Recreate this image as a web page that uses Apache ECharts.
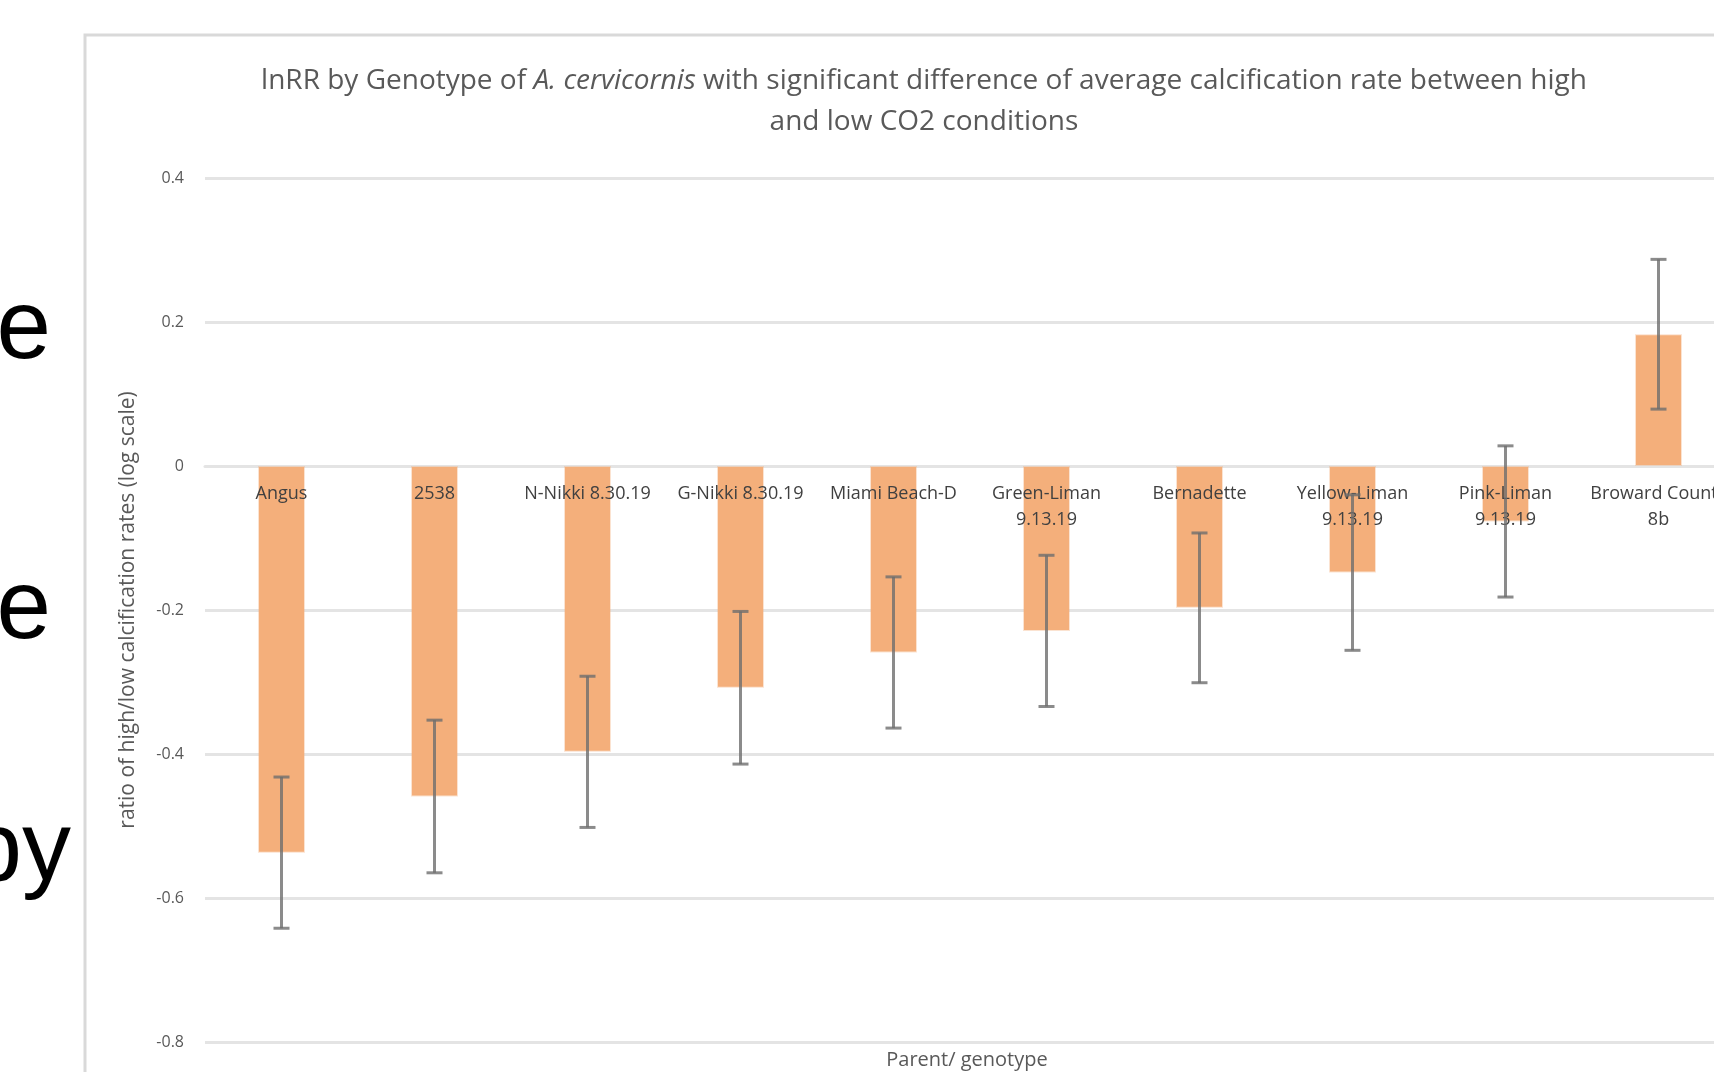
<!DOCTYPE html>
<html>
<head>
<meta charset="utf-8">
<script src="https://cdn.jsdelivr.net/npm/echarts@6/dist/echarts.min.js"></script>
<style>
html, body { margin: 0; padding: 0; background: #fff; overflow: hidden; width: 1714px; height: 1072px; }
#chart { width: 1800px; height: 1150px; }
</style>
</head>
<body>
<div id="chart"></div>
<script>
// 基因型 / genotype names
var genotypes = ['Angus', '2538', 'N-Nikki 8.30.19', 'G-Nikki 8.30.19', 'Miami Beach-D',
	'Green-Liman\n9.13.19', 'Bernadette', 'Yellow-Liman\n9.13.19', 'Pink-Liman\n9.13.19', 'Broward County\n8b'];
// lnRR values
var lnrr = [-0.537, -0.459, -0.397, -0.308, -0.259, -0.229, -0.197, -0.148, -0.077, 0.183];
// error (+/-)
var errs = [0.105, 0.106, 0.105, 0.106, 0.105, 0.105, 0.104, 0.108, 0.105, 0.104];
var yTicks = {min: -0.8, max: 0.4, interval: 0.2};

var errData = [];
var labelData = [];
for (var i = 0; i < lnrr.length; i++) {
	errData.push([i, lnrr[i] - errs[i], lnrr[i] + errs[i]]);
	labelData.push([i, 0]);
}

var chart = echarts.init(document.getElementById('chart'));
chart.setOption({
	animation: false,
	backgroundColor: '#fff',
	title: {
		text: '{n|lnRR by Genotype of }{i|A. cervicornis}{n| with significant difference of average calcification rate between high}\n{n|and low CO2 conditions}',
		left: 919,
		top: 56,
		textAlign: 'center',
		textStyle: {
			rich: {
				n: {fontFamily: 'Open Sans', fontSize: 28, fontWeight: 'normal', color: '#595959', lineHeight: 41},
				i: {fontFamily: 'Open Sans', fontSize: 28, fontWeight: 'normal', color: '#595959', lineHeight: 41, fontStyle: 'italic'}
			}
		}
	},
	grid: {
		left: 205,
		top: 178,
		width: 1530,
		height: 864
	},
	xAxis: {
		type: 'category',
		data: genotypes,
		axisLine: {onZero: true, lineStyle: {color: '#E4E4E4', width: 3}},
		axisTick: {show: false},
		axisLabel: {show: false}
	},
	yAxis: {
		type: 'value',
		min: yTicks.min,
		max: yTicks.max,
		interval: yTicks.interval,
		name: 'ratio of high/low calcification rates (log scale)',
		nameLocation: 'middle',
		nameGap: 66,
		nameTextStyle: {fontFamily: 'Open Sans', fontSize: 21, color: '#595959'},
		axisLine: {show: false},
		axisTick: {show: false},
		axisLabel: {margin: 21, fontFamily: 'Open Sans', fontSize: 16, color: '#595959'},
		splitLine: {lineStyle: {color: '#E4E4E4', width: 3}}
	},
	graphic: [
		{type: 'rect', shape: {x: 85, y: 35, width: 2000, height: 2000},
			style: {fill: 'none', stroke: '#D9D9D9', lineWidth: 3}},
		{type: 'text', x: 51, y: 282, style: {text: 'e', font: '98px "Liberation Sans"', fill: '#000', align: 'right'}},
		{type: 'text', x: 51, y: 562, style: {text: 'e', font: '98px "Liberation Sans"', fill: '#000', align: 'right'}},
		{type: 'text', x: 71, y: 804, style: {text: 'by', font: '98px "Liberation Sans"', fill: '#000', align: 'right'}},
		{type: 'text', x: 967, y: 1060, style: {text: 'Parent/ genotype', font: '20px "Open Sans"', fill: '#595959', align: 'center', verticalAlign: 'middle'}}
	],
	series: [
		{
			name: 'lnRR',
			type: 'bar',
			barWidth: 47,
			data: lnrr,
			itemStyle: {color: '#F4AF7B', borderColor: 'rgba(244,175,123,0.35)', borderWidth: 2}
		},
		{
			// category labels sit just under the zero line
			name: 'labels',
			type: 'custom',
			z: 3,
			data: labelData,
			silent: true,
			renderItem: function (params, api) {
				var p = api.coord([api.value(0), api.value(1)]);
				return {
					type: 'text',
					x: p[0],
					y: p[1] + 15,
					style: {
						text: genotypes[params.dataIndex],
						font: '18px "Open Sans"',
						fill: '#404040',
						align: 'center',
						verticalAlign: 'top',
						lineHeight: 26
					}
				};
			}
		},
		{
			name: 'error',
			type: 'custom',
			z: 4,
			data: errData,
			encode: {x: 0, y: [1, 2]},
			renderItem: function (params, api) {
				var lo = api.coord([api.value(0), api.value(1)]);
				var hi = api.coord([api.value(0), api.value(2)]);
				var cap = 8;
				var st = {stroke: 'rgba(110,110,110,0.8)', lineWidth: 3};
				return {
					type: 'group',
					children: [
						{type: 'line', shape: {x1: lo[0], y1: lo[1], x2: hi[0], y2: hi[1]}, style: st},
						{type: 'line', shape: {x1: lo[0] - cap, y1: lo[1], x2: lo[0] + cap, y2: lo[1]}, style: st},
						{type: 'line', shape: {x1: hi[0] - cap, y1: hi[1], x2: hi[0] + cap, y2: hi[1]}, style: st}
					]
				};
			}
		}
	]
});
</script>
</body>
</html>
